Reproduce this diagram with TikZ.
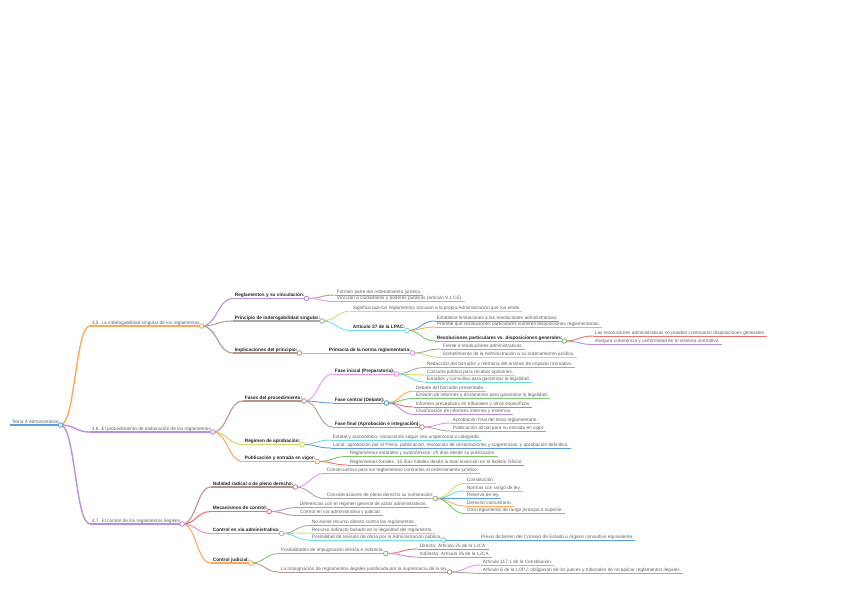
\documentclass[tikz,border=0pt]{standalone}
\usepackage{fontspec}
\setmainfont{Liberation Sans}
\usetikzlibrary{calc}

\definecolor{mmblue}{HTML}{5A9EE0}
\definecolor{mmorange}{HTML}{FFA85C}
\definecolor{mmpurple}{HTML}{B88FE0}
\definecolor{mmgray}{HTML}{A8A8A8}
\definecolor{mmbrown}{HTML}{B8968C}
\definecolor{mmpink}{HTML}{F090E0}
\definecolor{mmolive}{HTML}{D8D86A}
\definecolor{mmcyan}{HTML}{6FDDE8}
\definecolor{mmgreen}{HTML}{7CC86A}
\definecolor{mmred}{HTML}{F07070}
\definecolor{mmtext}{HTML}{606060}
\definecolor{mmdark}{HTML}{222222}

% name, parent, position, line options, node style, text
\newcommand{\mmbranch}[6]{%
  \node[#5] (#1) at (#3) {#6};
  \draw[#4] (#1.south west) -- (#1.south east);
  \draw[#4] let \p1=(#2.south east), \p2=(#1.south west), \n1={0.5*\x1+0.5*\x2} in
    (\p1) .. controls ({\n1*1pt},\y1) and ({\n1*1pt},\y2) .. (\p2);
}

\begin{document}
\begin{tikzpicture}[x=1pt, y=-1pt,
  leaf/.style={anchor=south west, inner xsep=1.7pt, inner ysep=1pt, text height=3.3pt, text depth=0.8pt, font=\fontsize{4.75}{5}\selectfont, text=mmtext},
  head/.style={leaf, font=\fontsize{4.75}{5}\selectfont\bfseries, text=mmdark},
  wire1/.style={line width=1.4pt},
  wire2/.style={line width=1.1pt},
  wire3/.style={line width=0.9pt}]
\useasboundingbox (0,0) rectangle (848,599);

% Root
\node[leaf] (root) at (10,425) {Tema 4 Administrativo};
\draw[mmblue, line width=1.5pt] (root.south west) -- (root.south east);

% Main sections
\mmbranch{n45}{root}{90,326}{mmorange, wire1}{leaf}{4.5. La inderogabilidad singular de los reglamentos}
\mmbranch{n46}{root}{90,432}{mmpurple, wire1}{leaf}{4.6. El procedimiento de elaboración de los reglamentos}
\mmbranch{n47}{root}{90,524}{mmpurple, wire1}{leaf}{4.7. El control de los reglamentos ilegales}

% 4.5
\mmbranch{n45a}{n45}{233,298.5}{mmpurple, wire2}{head}{Reglamentos y su vinculación:}
\mmbranch{n45a1}{n45a}{335,295}{mmbrown, wire3}{leaf}{Forman parte del ordenamiento jurídico.}
\mmbranch{n45a2}{n45a}{335,301.5}{mmpink, wire3}{leaf}{Vinculan a ciudadanos y poderes públicos (artículo 9.1 CE).}
\mmbranch{n45b}{n45}{233,321}{mmgray, wire2}{head}{Principio de inderogabilidad singular:}
\mmbranch{n45b1}{n45b}{351,311}{mmolive, wire3}{leaf}{Significa que los reglamentos vinculan a la propia Administración que los emite.}
\mmbranch{n45b2}{n45b}{351,330.5}{mmcyan, wire3}{head}{Artículo 37 de la LPAC:}
\mmbranch{n45b2a}{n45b2}{435,321}{mmblue, wire3}{leaf}{Establece limitaciones a las resoluciones administrativas.}
\mmbranch{n45b2b}{n45b2}{435,327}{mmorange, wire3}{leaf}{Prohíbe que resoluciones particulares vulneren disposiciones reglamentarias.}
\mmbranch{n45b2c}{n45b2}{435,341}{mmgreen, wire3}{head}{Resoluciones particulares vs. disposiciones generales:}
\mmbranch{n45b2c1}{n45b2c}{593,336}{mmred, wire3}{leaf}{Las resoluciones administrativas no pueden contravenir disposiciones generales.}
\mmbranch{n45b2c2}{n45b2c}{593,344.5}{mmpurple, wire3}{leaf}{Asegura coherencia y uniformidad en el sistema normativo.}
\mmbranch{n45c}{n45}{233,353}{mmbrown, wire2}{head}{Implicaciones del principio:}
\mmbranch{n45c1}{n45c}{327,353}{mmpink, wire3}{head}{Primacía de la norma reglamentaria:}
\mmbranch{n45c1a}{n45c1}{441,349}{mmgray, wire3}{leaf}{Frente a resoluciones administrativas.}
\mmbranch{n45c1b}{n45c1}{441,357.5}{mmolive, wire3}{leaf}{Sometimiento de la Administración a su ordenamiento jurídico.}

% 4.6
\mmbranch{n46a}{n46}{243,401}{mmbrown, wire2}{head}{Fases del procedimiento:}
\mmbranch{n46a1}{n46a}{333,374}{mmpink, wire3}{head}{Fase inicial (Preparatoria):}
\foreach \k/\ypos/\col/\lbl in {a/367.5/mmgray/{Redacción del borrador y memoria del análisis de impacto normativo.},
    b/375/mmolive/{Consulta pública para recabar opiniones.},
    c/382/mmcyan/{Estudios y consultas para garantizar la legalidad.}}
  \mmbranch{n46a1\k}{n46a1}{425,\ypos}{\col, wire3}{leaf}{\lbl};
\mmbranch{n46a2}{n46a}{333,403}{mmblue, wire3}{head}{Fase central (Debate):}
\foreach \k/\ypos/\col/\lbl in {a/391/mmorange/{Debate del borrador presentado.},
    b/398.5/mmgreen/{Emisión de informes y dictámenes para garantizar la legalidad.},
    c/407/mmred/{Informes preceptivos en tribunales y otros específicos.},
    d/414.5/mmpurple/{Clasificación de informes internos y externos.}}
  \mmbranch{n46a2\k}{n46a2}{414,\ypos}{\col, wire3}{leaf}{\lbl};
\mmbranch{n46a3}{n46a}{333,427}{mmbrown, wire3}{head}{Fase final (Aprobación e integración):}
\foreach \k/\ypos/\col/\lbl in {a/423/mmpink/{Aprobación final del texto reglamentario.},
    b/431/mmgray/{Publicación oficial para su entrada en vigor.}}
  \mmbranch{n46a3\k}{n46a3}{451,\ypos}{\col, wire3}{leaf}{\lbl};
\mmbranch{n46b}{n46}{243,444.5}{mmolive, wire2}{head}{Régimen de aprobación:}
\mmbranch{n46b1}{n46b}{331,440}{mmcyan, wire3}{leaf}{Estatal y autonómico: variaciones según sea unipersonal o colegiado.}
\mmbranch{n46b2}{n46b}{331,448}{mmblue, wire3}{leaf}{Local: aprobación por el Pleno, publicación, resolución de reclamaciones y sugerencias, y aprobación definitiva.}
\mmbranch{n46c}{n46}{243,461.5}{mmorange, wire2}{head}{Publicación y entrada en vigor:}
\mmbranch{n46c1}{n46c}{348,456.5}{mmgreen, wire3}{leaf}{Reglamentos estatales y autonómicos: 20 días desde su publicación.}
\mmbranch{n46c2}{n46c}{348,465}{mmred, wire3}{leaf}{Reglamentos locales: 15 días hábiles desde la total inserción en el Boletín Oficial.}

% 4.7
\mmbranch{n47a}{n47}{211,487}{mmbrown, wire2}{head}{Nulidad radical o de pleno derecho:}
\mmbranch{n47a1}{n47a}{325,473.5}{mmpink, wire3}{leaf}{Consecuencia para los reglamentos contrarios al ordenamiento jurídico.}
\mmbranch{n47a2}{n47a}{325,498.5}{mmgray, wire3}{leaf}{Consideraciones de pleno derecho su vulneración:}
\foreach \k/\ypos/\col/\lbl in {a/483.5/mmolive/{Constitución.},
    b/491/mmcyan/{Normas con rango de ley.},
    c/498.5/mmblue/{Reserva de ley.},
    d/506/mmorange/{Derecho comunitario.},
    e/513.5/mmgreen/{Otro reglamento de rango jerárquico superior.}}
  \mmbranch{n47a2\k}{n47a2}{465,\ypos}{\col, wire3}{leaf}{\lbl};
\mmbranch{n47b}{n47}{211,511.5}{mmred, wire2}{head}{Mecanismos de control:}
\mmbranch{n47b1}{n47b}{298,507.5}{mmpurple, wire3}{leaf}{Diferencias con el régimen general de actos administrativos.}
\mmbranch{n47b2}{n47b}{298,515.5}{mmbrown, wire3}{leaf}{Control en vía administrativa y judicial.}
\mmbranch{n47c}{n47}{211,533.5}{mmpink, wire2}{head}{Control en vía administrativa:}
\mmbranch{n47c1}{n47c}{310,525.5}{mmgray, wire3}{leaf}{No existe recurso directo contra los reglamentos.}
\mmbranch{n47c2}{n47c}{310,533}{mmolive, wire3}{leaf}{Recurso indirecto basado en la ilegalidad del reglamento.}
\mmbranch{n47c3}{n47c}{310,540}{mmcyan, wire3}{leaf}{Posibilidad de revisión de oficio por la Administración pública.}
\mmbranch{n47c3a}{n47c3}{479,540}{mmblue, wire3}{leaf}{Previo dictamen del Consejo de Estado u órgano consultivo equivalente.}
\mmbranch{n47d}{n47}{211,563}{mmorange, wire2}{head}{Control judicial:}
\mmbranch{n47d1}{n47d}{279,553.5}{mmgreen, wire3}{leaf}{Posibilidades de impugnación directa e indirecta.}
\mmbranch{n47d1a}{n47d1}{418,549}{mmred, wire3}{leaf}{Directa: Artículo 25 de la LJCA.}
\mmbranch{n47d1b}{n47d1}{418,557}{mmpurple, wire3}{leaf}{Indirecta: Artículo 26 de la LJCA.}
\mmbranch{n47d2}{n47d}{279,572}{mmbrown, wire3}{leaf}{La impugnación de reglamentos ilegales justificada por la supremacía de la ley.}
\mmbranch{n47d2a}{n47d2}{481,565}{mmpink, wire3}{leaf}{Artículo 117.1 de la Constitución.}
\mmbranch{n47d2b}{n47d2}{481,573.5}{mmgray, wire3}{leaf}{Artículo 6 de la LOPJ: obligación de los jueces y tribunales de no aplicar reglamentos ilegales.}

% Dots on the nodes with children
\foreach \k/\col in {root/mmblue, n45/mmorange, n46/mmpurple, n47/mmpurple,
    n45a/mmpurple, n45b/mmgray, n45b2/mmcyan, n45b2c/mmgreen, n45c/mmbrown, n45c1/mmpink,
    n46a/mmbrown, n46a1/mmpink, n46a2/mmblue, n46a3/mmbrown, n46b/mmolive, n46c/mmorange,
    n47a/mmbrown, n47a2/mmgray, n47b/mmred, n47c/mmpink, n47c3/mmcyan,
    n47d/mmorange, n47d1/mmgreen, n47d2/mmbrown}
  \draw[\col, fill=white, line width=0.9pt] (\k.south east) circle (2.3pt);
\end{tikzpicture}
\end{document}
